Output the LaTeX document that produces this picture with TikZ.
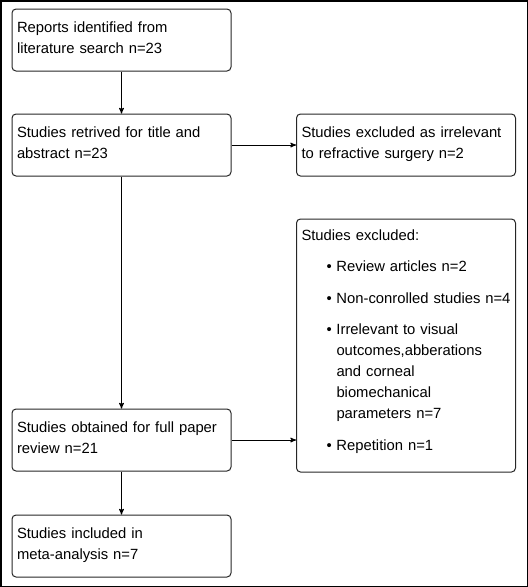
\documentclass[tikz,border=0pt]{standalone}
\usepackage{fontspec}
\setmainfont{Liberation Sans}
\usepackage{tikz}
\usetikzlibrary{arrows}

\begin{document}
\begin{tikzpicture}[->,>=stealth',auto,x=1pt,y=-1pt,line width=1pt]
\tikzstyle{box}=[draw=black!85,rounded corners=4pt,align=left,inner xsep=5pt,inner ysep=0pt,
                 text width=209pt,text height=23pt,text depth=39pt]
\tikzset{font=\fontsize{14.8pt}{21pt}\selectfont}

        \useasboundingbox (0,0) rectangle (528,587);
        \draw[-,line width=1.5pt] (0.75,0.75) rectangle (527.25,586.25);

        \node[box]                               (0)   at (121.5,40)   {Reports identified from\\literature search n=23};
        \node[box, node distance = 105pt]        (1)   [below of=0]    {Studies retrived for title and\\abstract n=23};
        \node[box, node distance = 284.5pt]      (2)   [right of=1]    {Studies excluded as irrelevant\\to refractive surgery n=2};
        \node[box, node distance = 295pt]        (3)   [below of=1]    {Studies obtained for full paper\\review n=21};
        \node[box, node distance = 106pt]        (4)   [below of=3]    {Studies included in\\meta-analysis n=7};
        \node[box, node distance = 200.5pt, text height=21pt, text depth=232pt]
                                                 (5)   [below of=2]    {Studies excluded:\\[10.5pt]
            \hspace*{25pt}\makebox[10pt][l]{\textbullet}\mbox{Review articles n=2}\\[10.5pt]
            \hspace*{25pt}\makebox[10pt][l]{\textbullet}\mbox{Non-conrolled studies n=4}\\[10.5pt]
            \hspace*{25pt}\makebox[10pt][l]{\textbullet}\mbox{Irrelevant to visual}\\
            \hspace*{35pt}\mbox{outcomes,abberations}\\
            \hspace*{35pt}\mbox{and corneal}\\
            \hspace*{35pt}\mbox{biomechanical}\\
            \hspace*{35pt}\mbox{parameters n=7}\\[10.5pt]
            \hspace*{25pt}\makebox[10pt][l]{\textbullet}\mbox{Repetition n=1}};

        \path[->]
        (0)   edge node {}      (1)
        (1)   edge node {}      (2)
        (1)   edge node {}      (3)
        (3)   edge node {}      (3 -| 5.west)
        (3)   edge node {}      (4)
        ; %end path

\end{tikzpicture}
\end{document}
